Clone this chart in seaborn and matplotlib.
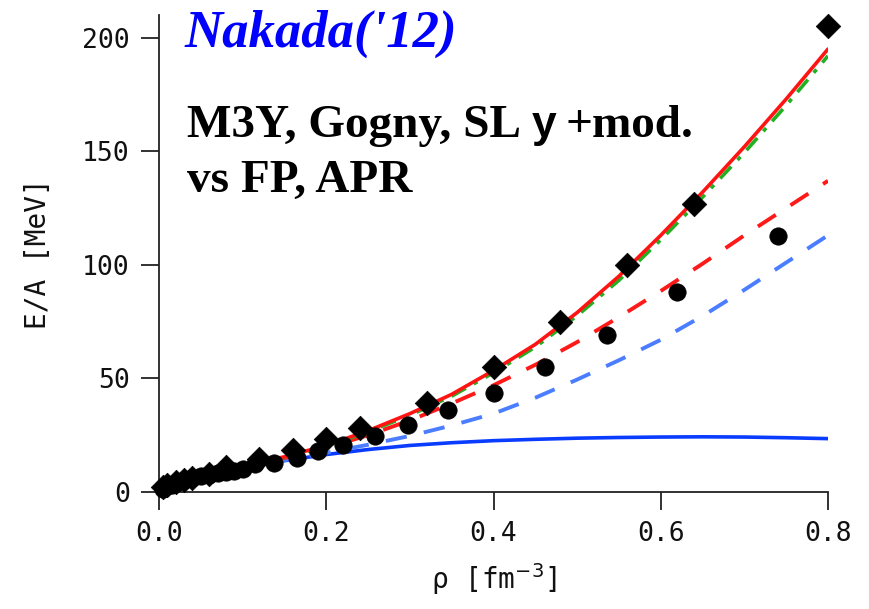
import numpy as np
import pandas as pd
import seaborn as sns
import matplotlib
matplotlib.use("Agg")
import matplotlib.pyplot as plt

# density grid for the model curves [fm^-3]
rho = [0.0, 0.02, 0.05, 0.1, 0.15, 0.2, 0.25, 0.3, 0.35, 0.4,
       0.45, 0.5, 0.55, 0.6, 0.65, 0.7, 0.75, 0.8]

# E/A [MeV]
red_solid = [0.0, 4.0, 7.5, 11.5, 15.5, 20.5, 27.0, 34.5, 43.0, 53.5,
             65.0, 79.0, 95.0, 113.0, 132.0, 152.0, 173.0, 195.0]
green_dashdot = [0.0, 4.0, 7.5, 11.5, 15.3, 20.2, 26.5, 33.8, 42.2, 52.5,
                 63.8, 77.6, 93.2, 111.0, 129.8, 149.4, 170.2, 192.0]
red_dashed = [0.0, 4.0, 7.3, 11.3, 15.0, 19.5, 25.0, 31.5, 39.0, 47.0,
              56.0, 66.0, 77.0, 88.5, 100.5, 113.0, 125.0, 137.0]
blue_dashed = [0.0, 4.0, 7.0, 10.7, 14.0, 17.3, 20.8, 24.7, 29.3, 34.5,
               41.5, 49.5, 58.0, 67.0, 77.5, 89.0, 101.0, 113.0]
blue_solid = [0.0, 4.0, 7.0, 10.7, 13.8, 16.5, 18.7, 20.5, 21.7, 22.6,
              23.2, 23.7, 24.0, 24.2, 24.3, 24.2, 23.9, 23.5]

# diamonds
fp_rho = [0.005, 0.01, 0.02, 0.03, 0.04, 0.06, 0.08, 0.12, 0.16, 0.2,
          0.24, 0.32, 0.4, 0.48, 0.56, 0.64, 0.8]
fp_ea = [2.0, 3.0, 4.3, 5.3, 6.3, 8.0, 11.0, 14.5, 18.5, 23.5,
         28.0, 39.0, 55.0, 75.0, 100.0, 127.0, 205.0]

# circles
apr_rho = [0.005, 0.01, 0.015, 0.02, 0.03, 0.04, 0.05, 0.06, 0.07, 0.08,
           0.09, 0.1, 0.115, 0.1375, 0.165, 0.19, 0.22, 0.258, 0.298, 0.345,
           0.4, 0.462, 0.536, 0.62, 0.74]
apr_ea = [1.5, 2.5, 3.2, 4.0, 5.2, 6.2, 7.0, 7.6, 8.2, 8.8,
          9.4, 10.0, 12.5, 12.8, 15.0, 18.2, 20.7, 24.7, 29.5, 36.0,
          43.6, 55.0, 69.0, 88.0, 112.5]

x_ticks = [0.0, 0.2, 0.4, 0.6, 0.8]
x_ticklabels = ["0.0", "0.2", "0.4", "0.6", "0.8"]
y_ticks = [0, 50, 100, 150, 200]

sns.set_style("ticks")
plt.rcParams["font.family"] = ["DejaVu Sans Mono", "DejaVu Sans"]

fig = plt.figure(figsize=(8.7, 6.09), dpi=100)
ax = fig.add_axes([0.1828, 0.1921, 0.7689, 0.7833])

curves = pd.DataFrame({
    "rho": rho,
    "green": green_dashdot,
    "red": red_solid,
    "red_d": red_dashed,
    "blue_d": blue_dashed,
    "blue": blue_solid,
})

sns.lineplot(data=curves, x="rho", y="blue", ax=ax, color="#0a3cff", lw=2.6)
sns.lineplot(data=curves, x="rho", y="blue_d", ax=ax, color="#4a7dff", lw=2.8,
             dashes=False, linestyle=(0, (5.5, 4.5)))
sns.lineplot(data=curves, x="rho", y="red_d", ax=ax, color="#ff1a1a", lw=2.8,
             dashes=False, linestyle=(0, (5.5, 4.5)))
sns.lineplot(data=curves, x="rho", y="green", ax=ax, color="#22b022", lw=2.6,
             dashes=False, linestyle=(0, (4.5, 2.5, 1.2, 2.5)))
sns.lineplot(data=curves, x="rho", y="red", ax=ax, color="#ff1414", lw=2.6)

sns.scatterplot(x=apr_rho, y=apr_ea, ax=ax, marker="o", s=12.5 ** 2,
                color="black", edgecolor="black", linewidth=0.5, clip_on=False,
                zorder=5)
sns.scatterplot(x=fp_rho, y=fp_ea, ax=ax, marker="D", s=12.5 ** 2,
                color="black", edgecolor="black", linewidth=0.5, clip_on=False,
                zorder=6)

ax.set_xlim(0, 0.8)
ax.set_ylim(0, 210)
ax.set_xticks(x_ticks)
ax.set_xticklabels(x_ticklabels)
ax.set_yticks(y_ticks)
sns.despine(ax=ax)
for side in ["left", "bottom"]:
    ax.spines[side].set_color("#222222")
    ax.spines[side].set_linewidth(1.3)
ax.tick_params(axis="both", direction="out", length=13, width=1.3,
               color="#222222", labelsize=19, labelcolor="#111111", pad=8)

ax.set_xlabel(r"ρ [fm$^{-3}$]", fontsize=20, labelpad=10, color="#111111")
ax.set_ylabel("E/A [MeV]", fontsize=20, labelpad=22, color="#111111")

serif_bold = dict(family="Liberation Serif", weight="bold", size=34,
                  color="black")

fig.text(0.2126, 0.9228, "Nakada('12)", family="Liberation Serif",
         weight="bold", style="italic", size=38, color="#0000ff",
         va="baseline", ha="left")

t1 = fig.text(0.2149, 0.775, "M3Y, Gogny, SL", va="baseline", ha="left",
              **serif_bold)
t2 = ax.annotate("y", xy=(1, 0.775), xycoords=(t1, "figure fraction"),
                 xytext=(11, 0), textcoords="offset pixels", va="baseline",
                 ha="left", family="Liberation Sans", weight="bold", size=32,
                 color="black")
ax.annotate("+mod.", xy=(1, 0.775), xycoords=(t2, "figure fraction"),
            xytext=(9, 0), textcoords="offset pixels", va="baseline",
            ha="left", **serif_bold)
fig.text(0.2149, 0.685, "vs FP, APR", va="baseline", ha="left", **serif_bold)

fig.savefig("out.png", dpi=100)
